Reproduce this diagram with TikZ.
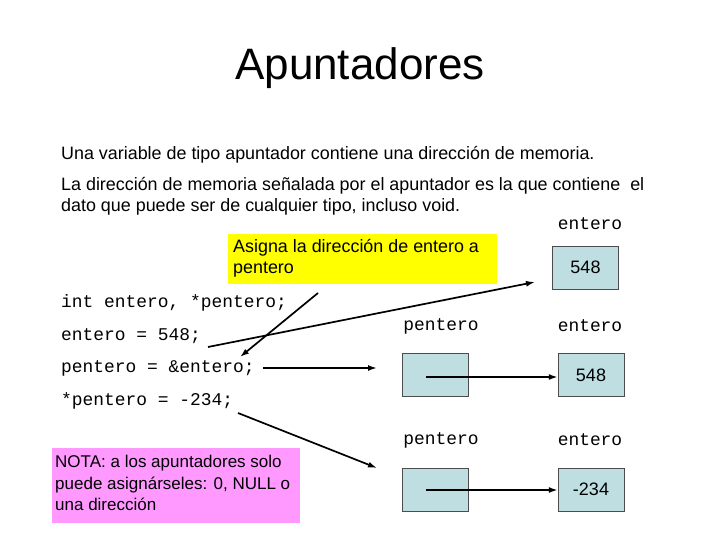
\documentclass[tikz,border=0pt]{standalone}
\usepackage{fontspec}
\setmainfont{Liberation Sans}
\setmonofont{Liberation Mono}
\usetikzlibrary{arrows.meta}
\definecolor{cellc}{RGB}{190,222,226}
\definecolor{yel}{RGB}{255,255,0}
\definecolor{pinkc}{RGB}{255,153,255}
\begin{document}
\begin{tikzpicture}[x=1pt,y=-1pt,
  body/.style={anchor=west,inner sep=0,font=\fontsize{17.9}{21}\selectfont},
  code/.style={anchor=west,inner sep=0,font=\ttfamily\fontsize{17.9}{20}\selectfont},
  cell/.style={draw=black!70,fill=cellc,minimum width=66pt,minimum height=43pt,font=\fontsize{18}{20}\selectfont},
  arr/.style={-{Latex[length=9pt,width=6pt]},line width=1.7pt}]
\useasboundingbox[fill=white] (0,0) rectangle (720,540);
\node (title) at (360,68) {\fontsize{44}{50}\selectfont Apuntadores};
\node[body] (l1) at (61,155) {Una variable de tipo apuntador contiene una dirección de memoria.};
\node[body] (l2) at (61,186) {La dirección de memoria señalada por el apuntador es la que contiene\ \ el};
\node[body] (l3) at (61,207) {dato que puede ser de cualquier tipo, incluso void.};
\node[fill=yel,minimum width=269pt,minimum height=50pt] (yb) at (362.5,259) {};
\node[body,align=left,anchor=north west] (yt) at (233,239) {Asigna la dirección de entero a\\pentero};
\node[code] (c1) at (61,303) {int entero, *pentero;};
\node[code] (c2) at (61,336) {entero = 548;};
\node[code] (c3) at (61,368) {pentero = \&entero;};
\node[code] (c4) at (61,401) {*pentero = -234;};
\node[fill=pinkc,minimum width=248pt,minimum height=75pt] (pb) at (176,485.5) {};
\node[body,align=left,anchor=north west,font=\fontsize{17}{21.5}\selectfont] (pt) at (55,455) {NOTA: a los apuntadores solo\\puede asignárseles: 0, NULL o\\una dirección};
\node[code,anchor=center] (e1) at (590,224) {entero};
\node[cell] (b1) at (585.5,267.5) {548};
\node[code,anchor=center] (p2l) at (441,326) {pentero};
\node[code,anchor=center] (e2l) at (590,326) {entero};
\node[cell] (p2) at (435,375) {};
\node[cell] (b2) at (591,375) {548};
\node[code,anchor=center] (p3l) at (441,440) {pentero};
\node[code,anchor=center] (e3l) at (590,440) {entero};
\node[cell] (p3) at (435,489.5) {};
\node[cell] (b3) at (591,489.5) {-234};
\coordinate (s1) at (208,347); \coordinate (t1) at (535,282);
\draw[arr] (s1) -- (t1);
\coordinate (s2) at (318,293); \coordinate (t2) at (240,357);
\draw[arr] (s2) -- (t2);
\coordinate (s3) at (263,368); \coordinate (t3) at (377,368);
\draw[arr] (s3) -- (t3);
\coordinate (s4) at (238,413); \coordinate (t4) at (377,468);
\draw[arr] (s4) -- (t4);
\coordinate (i2) at (426,377); \draw[arr] (i2) -- (b2.west|-i2);
\coordinate (i3) at (426,490); \draw[arr] (i3) -- (b3.west|-i3);
\end{tikzpicture}
\end{document}
